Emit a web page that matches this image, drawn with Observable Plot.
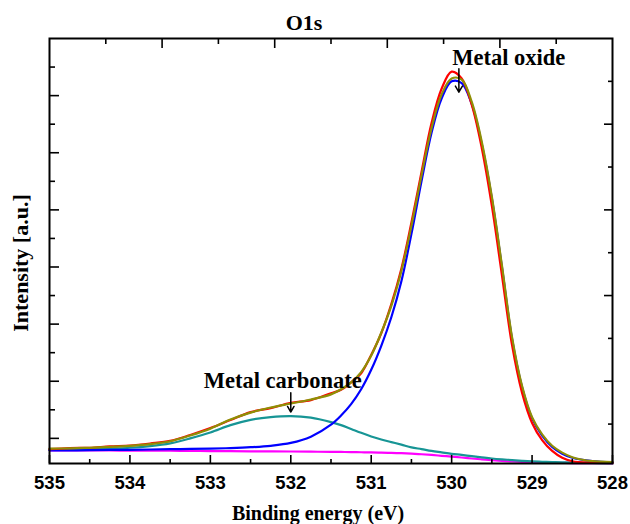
<!DOCTYPE html>
<html>
<head>
<meta charset="utf-8">
<script src="https://cdn.jsdelivr.net/npm/d3@7"></script>
<script src="https://cdn.jsdelivr.net/npm/@observablehq/plot@0.6"></script>
<style>
  html, body { margin: 0; padding: 0; background: #fff; }
  #chart svg { display: block; }
</style>
</head>
<body>
<div id="chart"></div>
<script>
// O1s XPS spectrum: measured counts, fitted envelope, two fitted components and the background.
const energy = [
  535, 534.75, 534.5, 534.25, 534, 533.75, 533.5, 533.25, 533, 532.75, 532.5, 532.25, 532, 531.75, 531.5,
  531.375, 531.25, 531.125, 531, 530.875, 530.75, 530.625, 530.5, 530.375, 530.25, 530.125, 530,
  529.875, 529.75, 529.625, 529.5, 529.375, 529.25, 529.125, 529, 528.875, 528.75, 528.625, 528.5,
  528.25, 528
];
const rawCounts = [
  0.81, 0.83, 0.835, 0.86, 0.875, 0.91, 0.955, 1.06, 1.18, 1.32, 1.46, 1.53, 1.62, 1.67, 1.79,
  1.85, 1.98, 2.14, 2.46, 2.84, 3.35, 3.97, 4.78, 5.66, 6.52, 7.12, 7.42,
  7.30, 6.84, 6.08, 5.07, 3.86, 2.64, 1.80, 1.27, 0.97, 0.78, 0.66, 0.60,
  0.575, 0.57
];
const envelope = [
  0.82, 0.825, 0.835, 0.85, 0.87, 0.90, 0.95, 1.05, 1.17, 1.33, 1.45, 1.54, 1.61, 1.68, 1.77,
  1.86, 1.98, 2.16, 2.45, 2.85, 3.32, 3.93, 4.72, 5.60, 6.43, 7.02, 7.30,
  7.28, 6.89, 6.19, 5.23, 4.03, 2.78, 1.92, 1.37, 1.07, 0.87, 0.75, 0.67,
  0.60, 0.585
];
const oxidePeak = [
  0.79, 0.79, 0.795, 0.80, 0.80, 0.805, 0.81, 0.815, 0.82, 0.83, 0.845, 0.87, 0.92, 1.03, 1.24,
  1.40, 1.60, 1.86, 2.20, 2.62, 3.12, 3.75, 4.58, 5.50, 6.35, 6.95, 7.25,
  7.22, 6.85, 6.15, 5.20, 4.00, 2.75, 1.90, 1.35, 1.05, 0.85, 0.73, 0.66,
  0.60, 0.58
];
const carbonatePeak = [
  0.80, 0.805, 0.81, 0.823, 0.836, 0.865, 0.913, 1.00, 1.103, 1.231, 1.324, 1.372, 1.39, 1.362, 1.284,
  1.232, 1.165, 1.097, 1.034, 0.98, 0.935, 0.89, 0.842, 0.812, 0.78, 0.755, 0.73,
  0.71, 0.688, 0.667, 0.647, 0.632, 0.62, 0.607, 0.597, 0.59, 0.585, 0.58, 0.576,
  0.57, 0.566
];
const background = [
  0.79, 0.79, 0.79, 0.788, 0.786, 0.785, 0.783, 0.78, 0.778, 0.776, 0.774, 0.772, 0.77, 0.767, 0.764,
  0.762, 0.76, 0.757, 0.754, 0.75, 0.745, 0.74, 0.732, 0.722, 0.71, 0.695, 0.68,
  0.665, 0.648, 0.632, 0.617, 0.605, 0.595, 0.587, 0.58, 0.576, 0.572, 0.57, 0.568,
  0.565, 0.563
];

// Axis ticks (the intensity axis carries unlabeled ticks only)
const bottomMajor = [535, 534, 533, 532, 531, 530, 529, 528];
const bottomMinor = [534.5, 533.5, 532.5, 531.5, 530.5, 529.5, 528.5];
const topMajor = [533.6, 532.2, 530.8, 529.4];
const topMinor = [534.3, 532.9, 531.5, 530.1, 528.7];
const leftMajor = [1, 2, 3, 4, 5, 6, 7];
const leftMinor = [1.5, 2.5, 3.5, 4.5, 5.5, 6.5, 7.5];
const rightMajor = [2, 3.5, 5, 6.5];
const rightMinor = [1.25, 2.75, 4.25, 5.75, 7.25];

// Peak annotations: label, arrow energy, arrow start/end intensity, label position
const annotations = [
  {label: "Metal oxide", energy: 529.91, from: 7.47, to: 7.06, labelEnergy: 529.29, labelY: 7.67},
  {label: "Metal carbonate", energy: 532.0, from: 1.80, to: 1.46, labelEnergy: 532.10, labelY: 2.0}
];

const series = [
  {name: "Background", values: background, color: "#ff00ff"},
  {name: "Metal carbonate", values: carbonatePeak, color: "#179595"},
  {name: "Metal oxide", values: oxidePeak, color: "#0000ff"},
  {name: "Raw", values: rawCounts, color: "#ff0000"},
  {name: "Envelope", values: envelope, color: "#8f8f05"}
];

const serif = "'Liberation Serif', 'Times New Roman', Times, serif";
const sans = "'Liberation Sans', Arial, Helvetica, sans-serif";

const lineMarks = series.map(s =>
  Plot.line(energy.map((e, i) => ({energy: e, intensity: s.values[i]})), {
    x: "energy", y: "intensity", stroke: s.color, strokeWidth: 2.2, curve: "catmull-rom"
  })
);

const tickStyle = {fill: "none", stroke: "black", strokeWidth: 1.6};

const chart = Plot.plot({
  width: 630,
  height: 524,
  marginLeft: 49,
  marginRight: 18,
  marginTop: 38,
  marginBottom: 61,
  style: {fontFamily: sans, background: "#fff", color: "black"},
  x: {domain: [535, 528]},
  y: {domain: [0.56, 8.0]},
  marks: [
    ...lineMarks,
    Plot.frame({stroke: "black", strokeWidth: 2}),
    Plot.axisX(bottomMajor, {anchor: "bottom", tickSize: -8, ...tickStyle}),
    Plot.axisX(bottomMinor, {anchor: "bottom", tickSize: -4, ...tickStyle}),
    Plot.axisX(topMajor, {anchor: "top", tickSize: -9, ...tickStyle}),
    Plot.axisX(topMinor, {anchor: "top", tickSize: -5, ...tickStyle}),
    Plot.axisY(leftMajor, {anchor: "left", tickSize: -10, ...tickStyle}),
    Plot.axisY(leftMinor, {anchor: "left", tickSize: -6, ...tickStyle}),
    Plot.axisY(rightMajor, {anchor: "right", tickSize: -9, ...tickStyle}),
    Plot.axisY(rightMinor, {anchor: "right", tickSize: -5, ...tickStyle}),
    Plot.axisX(bottomMajor, {
      anchor: "bottom", tickSize: 0, tickPadding: 12, tickFormat: d => String(d),
      fontSize: 18.5, fontWeight: "bold", fontFamily: sans, fill: "black", label: null
    }),
    Plot.arrow(annotations, {
      x1: "energy", x2: "energy", y1: "from", y2: "to",
      stroke: "black", strokeWidth: 1.5, headLength: 7
    }),
    Plot.text(annotations, {
      x: "labelEnergy", y: "labelY", text: "label",
      fontFamily: serif, fontWeight: "bold", fontSize: 22.5, fill: "black"
    }),
    Plot.text(["O1s"], {
      frameAnchor: "top", lineAnchor: "middle", dx: -27, dy: -16,
      fontFamily: serif, fontWeight: "bold", fontSize: 22, fill: "black"
    }),
    Plot.text(["Binding energy (eV)"], {
      frameAnchor: "bottom", lineAnchor: "middle", dx: -13, dy: 50,
      fontFamily: serif, fontWeight: "bold", fontSize: 20, fill: "black"
    }),
    Plot.text(["Intensity [a.u.]"], {
      frameAnchor: "left", textAnchor: "middle", lineAnchor: "middle", rotate: -90, dx: -29, dy: 12,
      fontFamily: serif, fontWeight: "bold", fontSize: 22, fill: "black"
    })
  ]
});

document.getElementById("chart").appendChild(chart);
</script>
</body>
</html>
